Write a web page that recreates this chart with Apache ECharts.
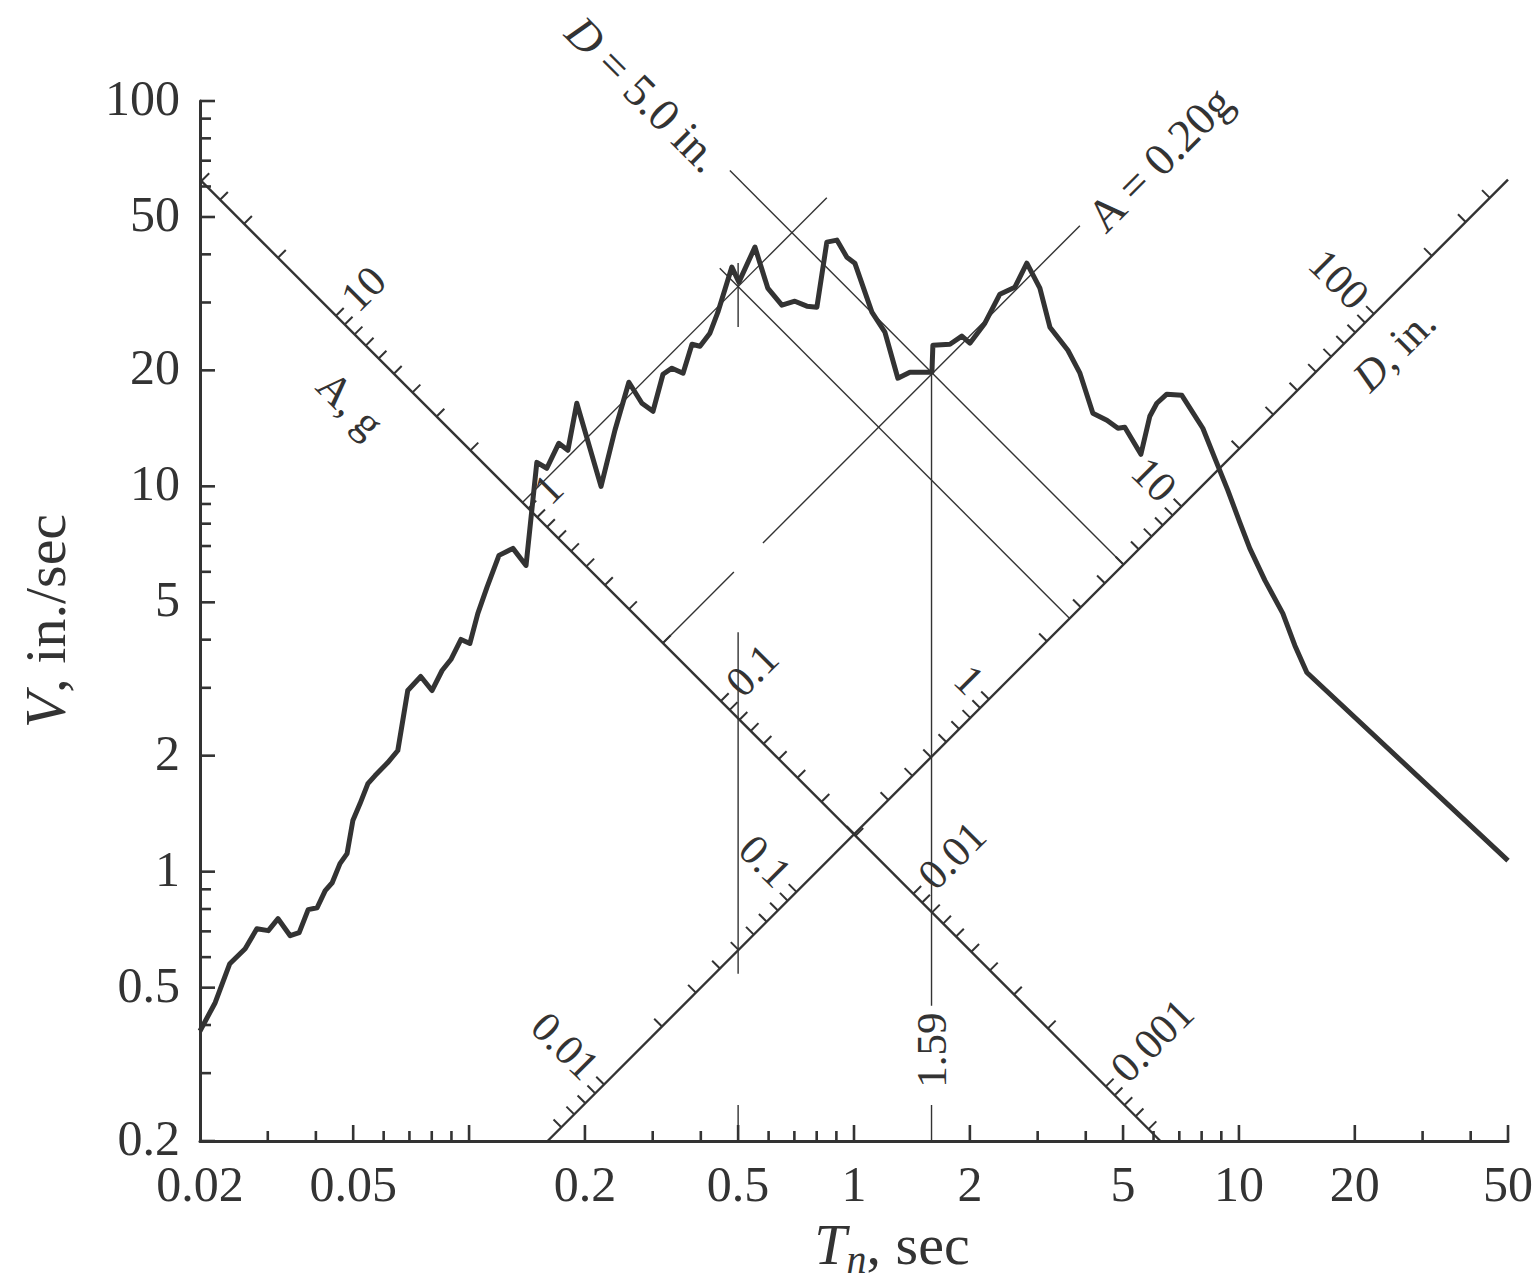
<!DOCTYPE html>
<html>
<head>
<meta charset="utf-8">
<title>Response spectrum</title>
<script src="https://cdn.jsdelivr.net/npm/echarts@6/dist/echarts.min.js"></script>
<style>
  html, body { margin: 0; padding: 0; background: #fff; overflow: hidden; width: 1540px; height: 1284px; }
  #chart { position: absolute; left: 0; top: 0; width: 1540px; height: 1284px; overflow: hidden; }
</style>
</head>
<body>
<div id="chart"></div>
<script>
var ink = '#333'
var serif = '"Liberation Serif", "DejaVu Serif", serif'
var G = 386.09          // in./sec^2 per g
var TWO_PI = 2 * Math.PI
var K = 1.25            // A scale runs along V = K/T, D scale along V = K*T

// pseudo-velocity spectrum
var periods = [0.020, 0.0219, 0.0239, 0.0262, 0.0281, 0.0301, 0.0319, 0.0343, 0.0362, 0.0382,
  0.0403, 0.0423, 0.0441, 0.0462, 0.0482, 0.0499, 0.0521, 0.0546, 0.0570, 0.0615,
  0.0653, 0.0693, 0.0749, 0.0801, 0.0851, 0.0897, 0.0953, 0.1005, 0.1054, 0.1113,
  0.1196, 0.1300, 0.1406, 0.1500, 0.1592, 0.1710, 0.1806, 0.1905, 0.2202, 0.2393,
  0.2601, 0.2812, 0.3005, 0.3190, 0.3366, 0.3597, 0.3794, 0.3980, 0.4224, 0.4430,
  0.4816, 0.5023, 0.5529, 0.5970, 0.6496, 0.7020, 0.7544, 0.8010, 0.8500, 0.9026,
  0.9583, 1.005, 1.113, 1.203, 1.300, 1.397, 1.594, 1.603, 1.775, 1.906,
  2.000, 2.188, 2.393, 2.618, 2.812, 3.040, 3.228, 3.594, 3.863, 4.174,
  4.539, 4.850, 5.052, 5.563, 5.868, 6.119, 6.495, 7.107, 8.057, 8.660,
  9.358, 10.05, 10.67, 11.68, 13.00, 13.97, 15.01, 50]
var velocities = [0.386, 0.457, 0.577, 0.631, 0.711, 0.703, 0.755, 0.682, 0.695, 0.797,
  0.806, 0.893, 0.936, 1.049, 1.114, 1.357, 1.502, 1.693, 1.776, 1.919,
  2.063, 2.952, 3.210, 2.952, 3.327, 3.553, 4.005, 3.910, 4.679, 5.466,
  6.620, 6.902, 6.233, 11.54, 11.14, 12.93, 12.40, 16.43, 10.00, 13.98,
  18.63, 16.43, 15.66, 19.54, 20.26, 19.66, 23.38, 23.10, 24.97, 28.31,
  37.06, 33.88, 41.77, 32.69, 29.52, 30.23, 29.35, 29.17, 43.04, 43.55,
  39.33, 37.95, 28.31, 25.12, 19.08, 19.78, 19.78, 23.24, 23.38, 24.53,
  23.52, 26.51, 31.52, 32.88, 37.95, 32.69, 25.88, 22.55, 19.66, 15.48,
  14.84, 14.15, 14.23, 12.11, 15.20, 16.43, 17.34, 17.23, 14.15, 11.82,
  9.763, 8.064, 6.902, 5.700, 4.679, 3.864, 3.288, 1.068]

var tMin = 0.02, tMax = 50, vMin = 0.2, vMax = 100
var xLabels = [0.02, 0.05, 0.2, 0.5, 1, 2, 5, 10, 20, 50]
var xMajorTicks = [0.05, 0.1, 0.2, 0.5, 1, 2, 5, 10, 20, 50]
var xMinorTicks = [0.03, 0.04, 0.06, 0.07, 0.08, 0.09, 0.3, 0.4, 0.6, 0.7, 0.8, 0.9,
  3, 4, 6, 7, 8, 9, 30, 40]
var yLabels = [0.2, 0.5, 1, 2, 5, 10, 20, 50, 100]
var yMinorTicks = [0.3, 0.4, 0.6, 0.7, 0.8, 0.9, 3, 4, 6, 7, 8, 9, 30, 40, 60, 70, 80, 90]
var aLabels = [10, 1, 0.1, 0.01, 0.001]
var dLabels = [0.01, 0.1, 1, 10, 100]
var decades = [0.0001, 0.001, 0.01, 0.1, 1, 10, 100]
var steps = [1, 2, 3, 4, 5, 6, 7, 8, 9]

// design point and the T = 0.5 sec reading
var designD = 5.0, designA = 0.20, designT = 1.59
var peakT = 0.5, peakV = 33

function tOfA(a) { return Math.sqrt(TWO_PI * K / (G * a)) }
function tOfD(d) { return Math.sqrt(TWO_PI * d / K) }
function onA(a) { var t = tOfA(a); return [t, K / t] }
function onD(d) { var t = tOfD(d); return [t, K * t] }

var aTicks = [], dTicks = []
decades.forEach(function (dec) {
  steps.forEach(function (s) {
    var v = dec * s
    var ta = tOfA(v), td = tOfD(v)
    if (ta >= tMin * 0.999 && ta <= (K / vMin) * 1.001) aTicks.push(v)
    if (td >= (vMin / K) * 0.999 && td <= tMax * 1.001) dTicks.push(v)
  })
})

var S = Math.SQRT1_2
var font = { fontFamily: serif, fontSize: 50, lineHeight: 38, fill: ink }
var diagFont = { fontFamily: serif, fontSize: 43, fill: ink }
var noteFont = { fontFamily: serif, fontSize: 46, fill: ink }

function segSeries(segs, width, z) {
  return {
    type: 'custom', silent: true, z: z, animation: false,
    encode: { x: [0, 2], y: [1, 3] },
    data: segs,
    renderItem: function (params, api) {
      var p1 = api.coord([api.value(0), api.value(1)])
      var p2 = api.coord([api.value(2), api.value(3)])
      return {
        type: 'line',
        shape: { x1: p1[0], y1: p1[1], x2: p2[0], y2: p2[1] },
        style: { stroke: ink, lineWidth: width, lineCap: 'butt' }
      }
    }
  }
}

function tickSeries(points, dir, len, width) {
  return {
    type: 'custom', silent: true, z: 3, animation: false,
    data: points,
    renderItem: function (params, api) {
      var p = api.coord([api.value(0), api.value(1)])
      return {
        type: 'line',
        shape: { x1: p[0], y1: p[1], x2: p[0] + dir[0] * len, y2: p[1] + dir[1] * len },
        style: { stroke: ink, lineWidth: width }
      }
    }
  }
}

function textSeries(points, texts, cfg) {
  return {
    type: 'custom', silent: true, z: 4, animation: false,
    data: points,
    renderItem: function (params, api) {
      var p = api.coord([api.value(0), api.value(1)])
      return {
        type: 'text',
        x: p[0] + cfg.dx, y: p[1] + cfg.dy,
        rotation: cfg.rot || 0,
        style: Object.assign({
          text: texts[params.dataIndex],
          align: cfg.align || 'center',
          verticalAlign: cfg.va || 'middle',
          rich: cfg.rich
        }, cfg.font || font)
      }
    }
  }
}

// scale axes drawn diagonally across the plot
var diagAxes = [
  [tMin, K / tMin, K / vMin, vMin],
  [vMin / K, vMin, tMax, K * tMax]
]

// reference lines
var tA02 = tOfA(designA)
var aLineGap = [0.4875, 0.580], aLineEnd = 3.862
var dLineStart = 0.476
var peakSlope = peakV / peakT
var peakA = TWO_PI * peakSlope / G
var peakD = peakV * peakT / TWO_PI
var peakALineEnd = 0.85, peakDLineStart = 0.448
function aLineV(a, t) { return a * G * t / TWO_PI }
function dLineV(d, t) { return TWO_PI * d / t }

var thinSegs = [
  [tA02, aLineV(designA, tA02), aLineGap[0], aLineV(designA, aLineGap[0])],
  [aLineGap[1], aLineV(designA, aLineGap[1]), aLineEnd, aLineV(designA, aLineEnd)],
  [dLineStart, dLineV(designD, dLineStart), tOfD(designD), K * tOfD(designD)],
  [tOfA(peakA), K / tOfA(peakA), peakALineEnd, aLineV(peakA, peakALineEnd)],
  [peakDLineStart, dLineV(peakD, peakDLineStart), tOfD(peakD), K * tOfD(peakD)],
  [peakT, 25.9, peakT, 38],
  [peakT, 0.543, peakT, 4.18],
  [peakT, vMin, peakT, 0.248],
  [designT, 0.449, designT, dLineV(designD, designT)],
  [designT, vMin, designT, 0.248]
]

var italic43 = { fontFamily: serif, fontSize: 43, color: ink, fontStyle: 'italic' }
var italic46 = { fontFamily: serif, fontSize: 46, color: ink, fontStyle: 'italic' }
var series = [
  segSeries(thinSegs, 1.4, 2),
  segSeries(diagAxes, 2.4, 2),
  tickSeries(xMajorTicks.map(function (t) { return [t, vMin] }), [0, -1], 16, 2.6),
  tickSeries(xMinorTicks.map(function (t) { return [t, vMin] }), [0, -1], 10, 2.6),
  tickSeries(yLabels.map(function (v) { return [tMin, v] }), [1, 0], 15, 2.6),
  tickSeries(yMinorTicks.map(function (v) { return [tMin, v] }), [1, 0], 11, 2.6),
  tickSeries(aTicks.map(onA), [S, -S], 11, 2),
  tickSeries(dTicks.map(onD), [-S, -S], 11, 2),
  textSeries(xLabels.map(function (t) { return [t, vMin] }), xLabels.map(String), { dx: 0, dy: 43 }),
  textSeries(yLabels.map(function (v) { return [tMin, v] }), yLabels.map(String), { dx: -20, dy: -3, align: 'right' }),
  textSeries(aLabels.map(onA), aLabels.map(String), { dx: 12, dy: -12, rot: Math.PI / 4, align: 'left', font: diagFont }),
  textSeries(dLabels.map(onD), dLabels.map(String), { dx: -12, dy: -12, rot: -Math.PI / 4, align: 'right', font: diagFont }),
  textSeries([[0.0614, K / 0.0614]], ['A, g'], { dx: -37, dy: 37, rot: -Math.PI / 4, font: diagFont }),
  textSeries([[21.4, K * 21.4]], ['{i|D}, in.'], { dx: 28, dy: 28, rot: Math.PI / 4, font: diagFont,
    rich: { i: italic43 } }),
  textSeries([[dLineStart, dLineV(designD, dLineStart)]], ['{i|D} = 5.0 in.'], { dx: -16, dy: -6, rot: -Math.PI / 4, align: 'right', font: noteFont,
    rich: { i: italic46 } }),
  textSeries([[aLineEnd, aLineV(designA, aLineEnd)]], ['A = 0.20g'], { dx: 15, dy: -2, rot: Math.PI / 4, align: 'left', font: noteFont }),
  textSeries([[designT, vMin]], ['1.59'], { dx: 0, dy: -91, rot: Math.PI / 2, font: diagFont }),
  {
    type: 'line', name: 'V', silent: true, animation: false, z: 5,
    data: periods.map(function (t, i) { return [t, velocities[i]] }),
    symbol: 'none',
    lineStyle: { color: ink, width: 5, join: 'round' }
  }
]

var chart = echarts.init(document.getElementById('chart'), null, { renderer: 'svg', width: 1540, height: 1284 })
chart.setOption({
  backgroundColor: '#fff',
  animation: false,
  grid: { left: 200, top: 101, width: 1308, height: 1040 },
  xAxis: {
    type: 'log', logBase: 10, min: tMin, max: tMax,
    axisLine: { show: true, onZero: false, lineStyle: { color: ink, width: 3 } },
    axisTick: { show: false }, axisLabel: { show: false }, splitLine: { show: false },
    name: '{t|T}{s|n}{r|, sec}',
    nameLocation: 'middle', nameGap: 68,
    nameTextStyle: {
      padding: [0, 0, 0, 76],
      rich: {
        t: { fontFamily: serif, fontSize: 58, fontStyle: 'italic', color: ink },
        s: { fontFamily: serif, fontSize: 40, fontStyle: 'italic', color: ink, padding: [30, 0, 0, 0] },
        r: { fontFamily: serif, fontSize: 58, color: ink }
      }
    }
  },
  yAxis: {
    type: 'log', logBase: 10, min: vMin, max: vMax,
    axisLine: { show: true, onZero: false, lineStyle: { color: ink, width: 3 } },
    axisTick: { show: false }, axisLabel: { show: false }, splitLine: { show: false },
    name: '{v|V}{r|, in./sec}',
    nameLocation: 'middle', nameRotate: 90, nameGap: 126,
    nameTextStyle: {
      rich: {
        v: { fontFamily: serif, fontSize: 58, fontStyle: 'italic', color: ink },
        r: { fontFamily: serif, fontSize: 58, color: ink }
      }
    }
  },
  series: series
})
</script>
</body>
</html>
